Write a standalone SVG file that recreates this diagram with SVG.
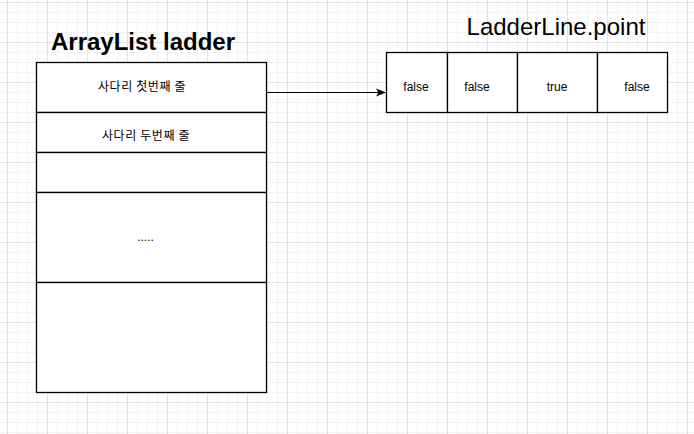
<svg xmlns="http://www.w3.org/2000/svg" width="694" height="434" viewBox="0 0 694 434">
<defs>
<pattern id="minor" width="10" height="10" patternUnits="userSpaceOnUse" x="7" y="2">
<path d="M0.5 0V10M0 0.5H10" stroke="#f3f3f3" stroke-width="1" fill="none"/>
</pattern>
<pattern id="major" width="40" height="40" patternUnits="userSpaceOnUse" x="7" y="2">
<path d="M0.5 0V40M0 0.5H40" stroke="#e2e2e2" stroke-width="1" fill="none"/>
</pattern>
<marker id="arrow" viewBox="0 0 10 10" refX="9" refY="5" markerWidth="10" markerHeight="10" markerUnits="userSpaceOnUse" orient="auto">
<path d="M0 1L10 5L0 9L2.5 5Z" fill="#000"/>
</marker>
</defs>
<style>
.cell{fill:#fff;stroke:#000;stroke-width:1.3}
.t{font-family:"Noto Sans CJK KR","Liberation Sans",Arial,sans-serif;font-size:12px;letter-spacing:0.6px;fill:#000;text-anchor:middle}
.s{font-family:"Liberation Sans",Arial,sans-serif;font-size:12px;fill:#000;text-anchor:middle}
.title{font-family:"Liberation Sans",Arial,sans-serif;font-size:24px;fill:#000;text-anchor:middle}
</style>
<rect width="694" height="434" fill="#fff"/>
<rect width="694" height="434" fill="url(#minor)"/>
<rect width="694" height="434" fill="url(#major)"/>
<g id="title-arraylist"><text class="title" x="143" y="50" font-weight="bold">ArrayList ladder</text></g>
<g id="title-ladderline"><text class="title" x="556" y="35">LadderLine.point</text></g>
<g id="arraylist">
<g id="row1"><rect class="cell" x="36.5" y="62.5" width="230" height="50"/><text class="t" x="142" y="91">사다리 첫번째 줄</text></g>
<g id="row2"><rect class="cell" x="36.5" y="112.5" width="230" height="40"/><text class="t" x="146" y="140">사다리 두번째 줄</text></g>
<g id="row3"><rect class="cell" x="36.5" y="152.5" width="230" height="40"/></g>
<g id="row4"><rect class="cell" x="36.5" y="192.5" width="230" height="90"/><text class="s" x="145.5" y="241">.....</text></g>
<g id="row5"><rect class="cell" x="36.5" y="282.5" width="230" height="110"/></g>
</g>
<g id="points">
<g id="p0"><rect class="cell" x="386.5" y="52.5" width="61" height="60"/><text class="s" x="416" y="91">false</text></g>
<g id="p1"><rect class="cell" x="447.5" y="52.5" width="70" height="60"/><text class="s" x="477" y="91">false</text></g>
<g id="p2"><rect class="cell" x="517.5" y="52.5" width="80" height="60"/><text class="s" x="557" y="91">true</text></g>
<g id="p3"><rect class="cell" x="597.5" y="52.5" width="70" height="60"/><text class="s" x="637" y="91">false</text></g>
</g>
<g id="connectors">
<line x1="266.5" y1="92.5" x2="385" y2="92.5" stroke="#000" stroke-width="1" marker-end="url(#arrow)"/>
</g>
</svg>
